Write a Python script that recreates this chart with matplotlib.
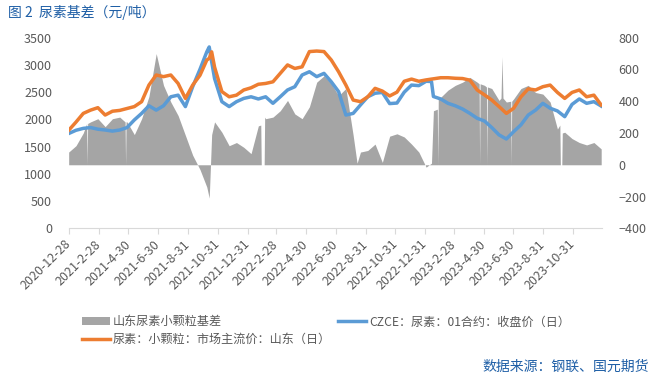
import matplotlib
matplotlib.use('Agg')
import matplotlib.pyplot as plt
import pandas as pd

plt.rcParams['font.family'] = ['Noto Sans CJK SC', 'DejaVu Sans']

# %% Data (yuan/ton)
dates = ['2020-12-28', '2021-01-12', '2021-01-27', '2021-02-11', '2021-02-26',
         '2021-03-13', '2021-03-28', '2021-04-12', '2021-04-27', '2021-05-12',
         '2021-05-27', '2021-06-11', '2021-06-26', '2021-07-11', '2021-07-26',
         '2021-08-10', '2021-08-25', '2021-09-09', '2021-09-24', '2021-10-08',
         '2021-10-13', '2021-10-18', '2021-10-24', '2021-11-08', '2021-11-23',
         '2021-12-08', '2021-12-23', '2022-01-07', '2022-01-22', '2022-02-06',
         '2022-02-21', '2022-03-08', '2022-03-23', '2022-04-07', '2022-04-22',
         '2022-05-07', '2022-05-22', '2022-06-06', '2022-06-21', '2022-07-06',
         '2022-07-21', '2022-08-05', '2022-08-20', '2022-09-04', '2022-09-19',
         '2022-10-04', '2022-10-19', '2022-11-03', '2022-11-18', '2022-12-03',
         '2022-12-18', '2023-01-02', '2023-01-13', '2023-01-17', '2023-02-01',
         '2023-02-16', '2023-03-03', '2023-03-18', '2023-04-02', '2023-04-17',
         '2023-05-02', '2023-05-17', '2023-06-01', '2023-06-16', '2023-07-01',
         '2023-07-16', '2023-07-31', '2023-08-15', '2023-08-30', '2023-09-14',
         '2023-09-29', '2023-10-14', '2023-10-29', '2023-11-13', '2023-11-28',
         '2023-12-13', '2023-12-28']

# Shandong small granule spot price (orange)
spot = [1800, 1950, 2110, 2170, 2215, 2080, 2150, 2165, 2200, 2235,
        2325, 2630, 2815, 2785, 2815, 2660, 2385, 2630, 2810, 3090,
        3120, 3240, 2960, 2510, 2415, 2445, 2540, 2580, 2645, 2660,
        2690, 2845, 3000, 2935, 2965, 3245, 3255, 3245, 3090, 2875,
        2630, 2355, 2325, 2415, 2570, 2520, 2430, 2500, 2700, 2740,
        2700, 2725, 2740, 2745, 2765, 2765, 2755, 2750, 2720, 2540,
        2450, 2355, 2235, 2110, 2205, 2415, 2560, 2540, 2600, 2630,
        2495, 2385, 2495, 2540, 2415, 2445, 2265]

# CZCE urea 01 contract close (blue)
futures = [1740, 1800, 1835, 1850, 1820, 1805, 1785, 1805, 1850, 1990,
           2110, 2250, 2170, 2250, 2415, 2445, 2235, 2600, 2920, 3240,
           3330, 3060, 2750, 2325, 2235, 2325, 2385, 2415, 2375, 2415,
           2295, 2415, 2540, 2600, 2815, 2875, 2785, 2845, 2690, 2510,
           2080, 2110, 2265, 2415, 2480, 2495, 2290, 2300, 2500, 2630,
           2620, 2700, 2695, 2420, 2375, 2295, 2250, 2190, 2110, 2020,
           1970, 1850, 1715, 1640, 1775, 1900, 2080, 2170, 2295, 2205,
           2155, 2050, 2275, 2375, 2295, 2325, 2245]

# Basis, right axis (gray area)
basis = [80, 120, 200, 270, 290, 240, 290, 300, 270, 190,
         290, 430, 700, 500, 395, 310, 185, 60, -30, -140,
         -210, 190, 270, 205, 120, 140, 110, 70, 245, 290,
         300, 340, 405, 320, 290, 365, 520, 560, 510, 435,
         480, 185, 80, 90, 130, 15, 180, 195, 175, 130,
         80, -15, 10, 340, 425, 470, 500, 520, 550, 520,
         500, 480, 405, 395, 415, 480, 500, 455, 445, 395,
         225, 205, 165, 140, 125, 140, 100]

# extra basis points: holiday gaps and the June 2023 spike
basis_extra_dates = ['2021-02-03', '2021-02-04', '2021-02-05',
                     '2021-04-23', '2021-04-24', '2021-04-25',
                     '2022-01-27', '2022-01-28', '2022-02-03', '2022-02-04',
                     '2022-08-13',
                     '2023-01-25', '2023-01-26', '2023-01-27',
                     '2023-04-21', '2023-04-22', '2023-04-23',
                     '2023-05-06', '2023-05-07', '2023-05-08',
                     '2023-06-05', '2023-06-07', '2023-06-09',
                     '2023-06-25', '2023-06-26', '2023-06-27',
                     '2023-10-04', '2023-10-05', '2023-10-08', '2023-10-09']
basis_extra = [260, 0, 260,
               270, 0, 270,
               250, 0, 0, 300,
               10,
               350, 0, 420,
               510, 0, 510,
               490, 0, 490,
               420, 680, 420,
               400, 0, 400,
               250, 0, 0, 200]

tick_dates = ['2020-12-28', '2021-02-28', '2021-04-30', '2021-06-30', '2021-08-31',
              '2021-10-31', '2021-12-31', '2022-02-28', '2022-04-30', '2022-06-30',
              '2022-08-31', '2022-10-31', '2022-12-31', '2023-02-28', '2023-04-30',
              '2023-06-30', '2023-08-31', '2023-10-31']

df = pd.DataFrame({'date': pd.to_datetime(dates), 'spot': spot,
                   'fut': futures, 'basis': basis})
extra = pd.DataFrame({'date': pd.to_datetime(basis_extra_dates), 'basis': basis_extra})
gray = pd.concat([df[['date', 'basis']], extra]).sort_values('date')

# %% Plot
txt = '#595959'
fig = plt.figure(figsize=(6.56, 3.8), dpi=100)
ax = fig.add_axes([0.1047, 0.3992, 0.8125, 0.5016])
ax2 = ax.twinx()

h_gray = ax2.fill_between(gray['date'], 0, gray['basis'], color='#A5A5A5',
                          lw=0, label='山东尿素小颗粒基差')
h_fut, = ax.plot(df['date'], df['fut'], color='#5B9BD5', lw=2.5,
                 label='CZCE：尿素：01合约：收盘价（日）')
h_spot, = ax.plot(df['date'], df['spot'], color='#ED7D31', lw=2.5,
                  label='尿素：小颗粒：市场主流价：山东（日）')

ax.set_zorder(ax2.get_zorder() + 1)
ax.patch.set_visible(False)

ax.set_ylim(0, 3500)
ax.set_yticks(range(0, 3501, 500))
ax2.set_ylim(-400, 800)
ax2.set_yticks(range(-400, 801, 200))
ax.set_xlim(pd.Timestamp('2020-12-28'), pd.Timestamp('2023-12-29'))

ticks = pd.to_datetime(tick_dates)
ax.set_xticks(ticks)
ax.set_xticklabels([f'{d.year}-{d.month}-{d.day}' for d in ticks],
                   rotation=45, ha='right', va='center', rotation_mode='anchor')

for a in (ax, ax2):
    for s in a.spines.values():
        s.set_visible(False)
ax.spines['bottom'].set_visible(True)
ax.spines['bottom'].set_color('#D9D9D9')

ax.tick_params(axis='x', length=4, color='#D9D9D9', labelsize=9, labelcolor=txt, pad=6)
ax.tick_params(axis='y', length=0, labelsize=9, labelcolor=txt, pad=12)
ax2.tick_params(axis='y', length=0, labelsize=9, labelcolor=txt, pad=12)

fig.text(0.012, 0.966, '图 2  尿素基差（元/吨）', color='#1F5FA6', fontsize=10,
         ha='left', va='center')
fig.text(0.99, 0.034, '数据来源：钢联、国元期货', color='#1F5FA6', fontsize=10,
         ha='right', va='center')

fig.legend(handles=[h_gray, h_spot, h_fut], ncol=2, loc='upper left',
           bbox_to_anchor=(0.125, 0.170), frameon=False, fontsize=8.7,
           labelcolor=txt, handlelength=2.3, handletextpad=0.25,
           columnspacing=0.6, labelspacing=0.4, borderpad=0, borderaxespad=0)

fig.savefig('out.png', dpi=100)
